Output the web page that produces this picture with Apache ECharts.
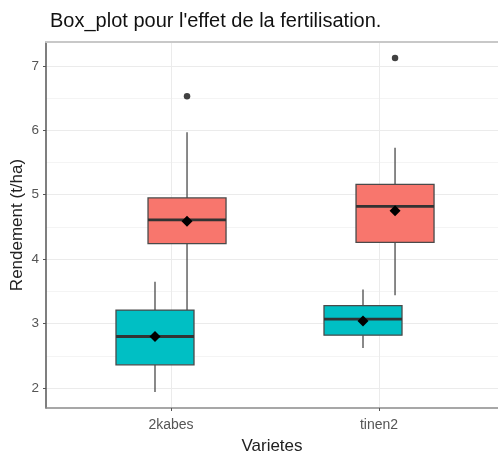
<!DOCTYPE html>
<html><head><meta charset="utf-8">
<script src="https://cdn.jsdelivr.net/npm/echarts@6/dist/echarts.min.js"></script>
<style>html,body{margin:0;padding:0;background:#fff}#c{width:498px;height:455px}</style>
</head><body><div id="c"></div>
<script>
var categories = ['2kabes', 'tinen2'];
var yTicks = [2, 3, 4, 5, 6, 7];
var yMinor = [2.5, 3.5, 4.5, 5.5, 6.5];
// [low whisker, Q1, median, Q3, high whisker]
var tealBox = [[1.94, 2.36, 2.80, 3.21, 3.65], [2.62, 2.82, 3.07, 3.28, 3.53]];
var redBox = [[3.10, 4.24, 4.61, 4.95, 5.97], [3.44, 4.26, 4.82, 5.16, 5.73]];
var tealMean = [2.80, 3.04];
var redMean = [4.59, 4.75];
var redOutliers = [[1, 6.53], [2, 7.12]];

function buildData(boxes, means) {
  return boxes.map(function (b, i) { return [i + 1].concat(b).concat([means[i]]); });
}

function makeRender(offset, color) {
  return function (params, api) {
    var x = api.value(0);
    var unit = api.size([1, 0])[0];
    var cx = api.coord([x, 0])[0] + offset * unit;
    var hw = 0.1875 * unit;
    var yLow = api.coord([x, api.value(1)])[1];
    var yQ1 = api.coord([x, api.value(2)])[1];
    var yMed = api.coord([x, api.value(3)])[1];
    var yQ3 = api.coord([x, api.value(4)])[1];
    var yHigh = api.coord([x, api.value(5)])[1];
    var yMean = api.coord([x, api.value(6)])[1];
    var ls = {stroke: '#4a4a4a', lineWidth: 1.3};
    return {
      type: 'group',
      children: [
        {type: 'line', shape: {x1: cx, y1: yQ3, x2: cx, y2: yHigh}, style: ls},
        {type: 'line', shape: {x1: cx, y1: yQ1, x2: cx, y2: yLow}, style: ls},
        {type: 'rect', shape: {x: cx - hw, y: yQ3, width: 2 * hw, height: yQ1 - yQ3},
          style: {fill: color, stroke: '#4a4a4a', lineWidth: 1.3}},
        {type: 'line', shape: {x1: cx - hw, y1: yMed, x2: cx + hw, y2: yMed},
          style: {stroke: '#333333', lineWidth: 2.8}},
        {type: 'path', shape: {pathData: 'M' + cx + ' ' + (yMean - 5.5) + 'L' + (cx + 5.5) + ' ' + yMean + 'L' + cx + ' ' + (yMean + 5.5) + 'L' + (cx - 5.5) + ' ' + yMean + 'Z'},
          style: {fill: '#000'}}
      ]
    };
  };
}

var chart = echarts.init(document.getElementById('c'), null, {renderer: 'canvas'});
var axisTextColor = '#555555';
chart.setOption({
  animation: false,
  title: {
    text: "Box_plot pour l'effet de la fertilisation.",
    left: 45, top: 6,
    textStyle: {fontFamily: 'Liberation Sans', fontSize: 20, fontWeight: 'normal', color: '#111'}
  },
  grid: {left: 46, top: 42, right: 0, bottom: 47, outerBoundsMode: 'none', containLabel: false, show: false},
  xAxis: [{
    type: 'value', min: 0.399, max: 2.572,
    name: 'Varietes', nameLocation: 'middle', nameGap: 30,
    nameTextStyle: {fontFamily: 'Liberation Sans', fontSize: 17, color: '#222'},
    axisLine: {show: true, onZero: false, lineStyle: {color: '#8a8a8a', width: 1.5}},
    axisTick: {show: true, length: 3, customValues: [1, 2], lineStyle: {color: '#555'}},
    axisLabel: {customValues: [1, 2], formatter: function (v) { return categories[Math.round(v) - 1]; },
      fontFamily: 'Liberation Sans', fontSize: 14, color: axisTextColor, margin: 10},
    splitLine: {show: true, lineStyle: {color: '#ebebeb', width: 1}}
  }, {
    type: 'value', min: 0.399, max: 2.572, position: 'top',
    axisLine: {show: true, onZero: false, lineStyle: {color: '#c8c8c8', width: 2}},
    axisTick: {show: false}, axisLabel: {show: false}, splitLine: {show: false}
  }],
  yAxis: [{
    type: 'value', min: 1.69, max: 7.37,
    name: 'Rendement (t/ha)', nameLocation: 'middle', nameGap: 20, nameMoveOverlap: false,
    nameTextStyle: {fontFamily: 'Liberation Sans', fontSize: 17, color: '#222'},
    axisLine: {show: true, onZero: false, lineStyle: {color: '#555', width: 1.5}},
    axisTick: {show: true, length: 3, customValues: yTicks, lineStyle: {color: '#555'}},
    axisLabel: {customValues: yTicks, fontFamily: 'Liberation Sans', fontSize: 13.5, color: axisTextColor, margin: 7},
    splitLine: {show: true, lineStyle: {color: '#ebebeb', width: 1}}
  }, {
    type: 'value', min: 1.69, max: 7.37, position: 'left',
    axisLine: {show: false}, axisLabel: {show: false},
    axisTick: {show: false, customValues: yMinor},
    splitLine: {show: true, lineStyle: {color: '#f4f4f4', width: 1}}
  }],
  series: [{
    type: 'custom', renderItem: makeRender(0.077, '#F8766D'),
    data: buildData(redBox, redMean), encode: {x: 0, y: [1, 2, 3, 4, 5, 6]}, z: 2
  }, {
    type: 'custom', renderItem: makeRender(-0.077, '#00BFC4'),
    data: buildData(tealBox, tealMean), encode: {x: 0, y: [1, 2, 3, 4, 5, 6]}, z: 3
  }, {
    type: 'scatter', data: redOutliers.map(function (p) { return [p[0] + 0.077, p[1]]; }),
    symbol: 'circle', symbolSize: 6.5, itemStyle: {color: '#111'}, z: 4
  }]
});
</script></body></html>
